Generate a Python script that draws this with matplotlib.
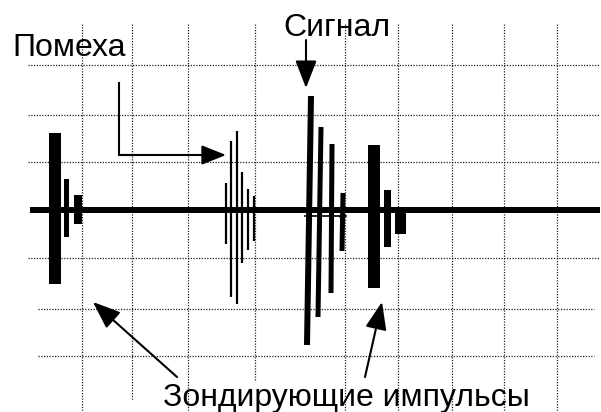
import matplotlib
matplotlib.use("Agg")
import matplotlib.pyplot as plt

# Coordinates are in picture pixels (y grows downwards)
BASE_Y = 210

# probing pulses: centre x, width, amplitude up, amplitude down
probe_x = [55, 66.5, 78, 374, 387.5, 400.5]
probe_w = [12, 5, 8, 12, 7, 11]
probe_up = [77, 31, 15, 65, 20, 0]
probe_down = [74, 27, 14, 78, 37, 24]

# interference: thin lines
noise_x = [226, 231, 237, 242, 248, 254]
noise_up = [27, 69, 79, 38, 21, 14]
noise_down = [34, 87, 94, 53, 40, 31]

# signal: slightly slanted lines (x at top, x at bottom)
sig_x_top = [311, 321, 332, 343]
sig_x_bot = [307, 318, 331, 342]
sig_w = [6, 5, 5, 5]
sig_up = [114, 83, 66, 17]
sig_down = [135, 107, 83, 41]

grid_x = [82, 132, 188, 255, 345, 398, 452, 504, 557]
grid_y = [65, 115, 162, 258, 309, 356]

PX = 0.72  # points per pixel at dpi 100

fig = plt.figure(figsize=(6.01, 4.12), dpi=100)
ax = fig.add_axes([0, 0, 1, 1])
ax.set_xlim(0, 601)
ax.set_ylim(412, 0)
ax.axis("off")

dot = dict(color="#222222", lw=0.9, linestyle=(0, (1, 1.2)), zorder=1)
for i, y in enumerate(grid_y):
    x0, x1 = (28, 600) if i < 4 else (38, 594)
    ax.plot([x0, x1], [y, y], **dot)
for x in grid_x:
    y1 = 400 if x == 132 else (380 if x == 255 else 412)
    ax.plot([x, x], [24, y1], **dot)

# zero line
ax.plot([30, 600], [BASE_Y, BASE_Y], color="black", lw=6 * PX,
        solid_capstyle="butt", zorder=3)
ax.plot([305, 346], [216, 216], color="black", lw=1.2, zorder=3)
ax.plot([340, 342], [216, 222], color="black", lw=1.2, zorder=3)

for x, w, u, d in zip(probe_x, probe_w, probe_up, probe_down):
    ax.bar(x, u + d, width=w, bottom=BASE_Y - u, color="black", zorder=4)

for x, u, d in zip(noise_x, noise_up, noise_down):
    ax.plot([x, x], [BASE_Y - u, BASE_Y + d], color="black", lw=2.2 * PX,
            solid_capstyle="butt", zorder=4)

for xt, xb, w, u, d in zip(sig_x_top, sig_x_bot, sig_w, sig_up, sig_down):
    ax.plot([xt, xb], [BASE_Y - u, BASE_Y + d], color="black", lw=w * PX,
            solid_capstyle="butt", zorder=4)

# arrows
def arrow(tip, tail, hl, hw):
    ax.annotate("", xy=tip, xytext=tail,
                arrowprops=dict(arrowstyle=f"-|>,head_length={hl},head_width={hw}",
                                mutation_scale=20, color="black", lw=1.5,
                                shrinkA=0, shrinkB=0), zorder=5)

ax.plot([119, 119, 130], [83, 155, 155], color="black", lw=1.5, zorder=5)
arrow((226, 155), (119, 155), 0.75, 0.3)
arrow((306, 88), (306, 40), 0.85, 0.33)
arrow((93, 302), (177, 377), 0.85, 0.33)
arrow((382, 302), (365, 377), 0.85, 0.33)

font = dict(family="Liberation Sans", fontsize=23, color="black", zorder=6)
ax.text(12, 56, "Помеха", ha="left", va="baseline", **font)
ax.text(283, 36, "Сигнал", ha="left", va="baseline", **font)
ax.text(163, 406, "Зондирующие импульсы", ha="left", va="baseline", **font)

fig.savefig("out.png", dpi=100)
